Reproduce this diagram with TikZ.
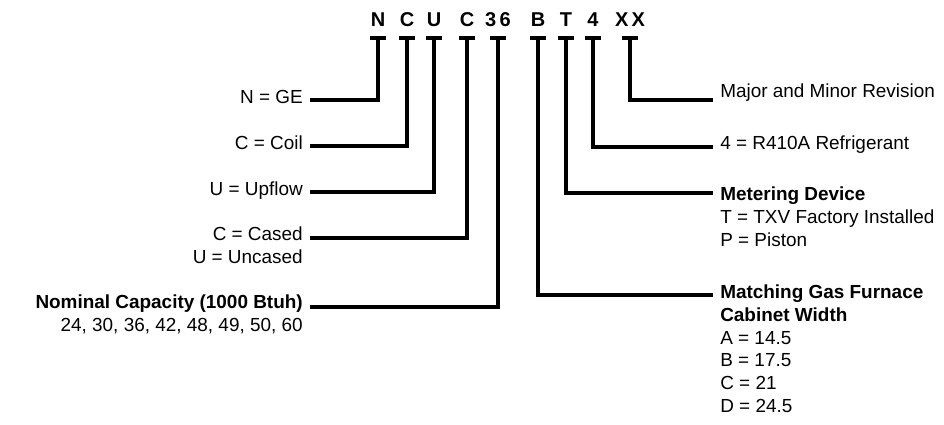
\documentclass[tikz,border=0pt]{standalone}
\usepackage{fontspec}
\setmainfont{Liberation Sans}
\begin{document}
\begin{tikzpicture}[x=0.75pt,y=-0.75pt,
  ln/.style={line width=3.2pt},
  lt/.style={anchor=east,align=right,font=\fontsize{14.2pt}{17pt}\selectfont,inner sep=0pt},
  rt/.style={anchor=north west,align=left,font=\fontsize{14.2pt}{17pt}\selectfont,inner sep=0pt},
  code/.style={font=\bfseries\fontsize{15pt}{15pt}\selectfont,inner sep=0pt}]
\useasboundingbox (0,0) rectangle (944,424);
\foreach \x/\t/\n in {378/N/a,407/C/b,434/U/c,467/C/d,498/3\,6/e,538/B/f,566/T/g,593/4/h,630/X\,X/i}{
  \node[code] (t\n) at (\x,20) {\t};
  \draw[ln] (\x-8,38) -- (\x+8,38);
  \coordinate (c\n) at (\x,38);
}
\node[lt] (la) at (303,97) {N = GE};
\node[lt] (lb) at (303,143) {C = Coil};
\node[lt] (lc) at (303,191) {U = Upflow};
\node[lt,anchor=north east] (ld) at (303,227) {C = Cased\\U = Uncased};
\node[lt,anchor=north east] (le) at (303,295) {\textbf{Nominal Capacity (1000 Btuh)}\\24, 30, 36, 42, 48, 49, 50, 60};
\node[rt] (ri) at (720,84) {Major and Minor Revision};
\node[rt] (rh) at (720,136) {4 = R410A Refrigerant};
\node[rt] (rg) at (720,187) {\textbf{Metering Device}\\T = TXV Factory Installed\\P = Piston};
\node[rt] (rf) at (720,285) {\textbf{Matching Gas Furnace}\\\textbf{Cabinet Width}\\A = 14.5\\B = 17.5\\C = 21\\D = 24.5};
\draw[ln] (ca) |- (310,100);
\draw[ln] (cb) |- (310,146);
\draw[ln] (cc) |- (310,192);
\draw[ln] (cd) |- (310,238);
\draw[ln] (ce) |- (310,307);
\draw[ln] (ci) |- (713,100);
\draw[ln] (ch) |- (713,147);
\draw[ln] (cg) |- (713,193);
\draw[ln] (cf) |- (713,295);
\end{tikzpicture}
\end{document}
